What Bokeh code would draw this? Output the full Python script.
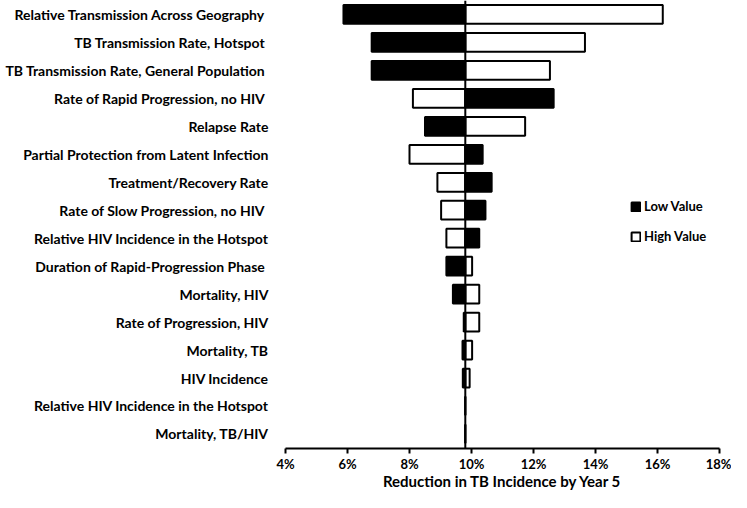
from bokeh.plotting import figure
from bokeh.models import Range1d, FixedTicker, Span, Legend, LegendItem, ColumnDataSource
from bokeh.embed import file_html
from bokeh.resources import INLINE

parameters = [
    "Relative Transmission  Across Geography",
    "TB Transmission  Rate, Hotspot",
    "TB Transmission  Rate, General Population",
    "Rate of Rapid  Progression, no HIV",
    "Relapse Rate",
    "Partial Protection from Latent Infection",
    "Treatment/Recovery Rate",
    "Rate of Slow  Progression, no HIV",
    "Relative HIV Incidence in the Hotspot",
    "Duration of Rapid-Progression  Phase",
    "Mortality, HIV",
    "Rate of Progression, HIV",
    "Mortality, TB",
    "HIV Incidence",
    "Relative HIV Incidence in the Hotspot",
    "Mortality, TB/HIV",
]
low_values = [5.87, 6.78, 6.78, 12.65, 8.50, 10.36, 10.65, 10.45, 10.25, 9.19, 9.40, 9.75, 9.71, 9.72, 9.80, 9.80]
high_values = [16.17, 13.66, 12.53, 8.11, 11.73, 8.00, 8.90, 9.02, 9.19, 10.02, 10.25, 10.25, 10.02, 9.94, 9.80, 9.80]
baseline = 9.8
x_ticks = [4, 6, 8, 10, 12, 14, 16, 18]
x_tick_labels = ["4%", "6%", "8%", "10%", "12%", "14%", "16%", "18%"]

FONT = "Lato"
n = len(parameters)
y_pos = [n - i for i in range(n)]
src = ColumnDataSource(dict(y=y_pos, low=low_values, high=high_values, base=[baseline] * n))

p = figure(width=731, height=492, output_backend="svg", toolbar_location=None,
           x_range=Range1d(4, 18), y_range=Range1d(0.48, 16.5),
           min_border_left=285, min_border_right=12, min_border_top=0, min_border_bottom=42)
p.outline_line_color = None
p.xgrid.visible = False
p.ygrid.visible = False

high_r = p.hbar(y="y", left="base", right="high", height=0.67, source=src,
                fill_color="white", line_color="black", line_width=2)
low_r = p.hbar(y="y", left="base", right="low", height=0.67, source=src,
               fill_color="black", line_color="black", line_width=2)

p.add_layout(Span(location=baseline, dimension="height", line_color="black", line_width=2))

xa = p.xaxis[0]
xa.ticker = FixedTicker(ticks=x_ticks)
xa.major_label_overrides = {t: l for t, l in zip(x_ticks, x_tick_labels)}
xa.axis_line_width = 2
xa.axis_line_color = "black"
xa.major_tick_line_width = 2
xa.major_tick_in = 0
xa.major_tick_out = 5
xa.minor_tick_line_color = None
xa.major_label_text_font = FONT
xa.major_label_text_font_style = "bold"
xa.major_label_text_font_size = "13px"
xa.major_label_text_color = "black"
xa.major_label_standoff = 2
xa.axis_label = "Reduction in TB Incidence by Year 5"
xa.axis_label_text_font = FONT
xa.axis_label_text_font_style = "bold"
xa.axis_label_text_font_size = "15px"
xa.axis_label_text_color = "black"
xa.axis_label_standoff = -3

ya = p.yaxis[0]
ya.ticker = FixedTicker(ticks=y_pos)
ya.major_label_overrides = {y: name for y, name in zip(y_pos, parameters)}
ya.axis_line_color = None
ya.major_tick_line_color = None
ya.minor_tick_line_color = None
ya.major_tick_in = 0
ya.major_tick_out = 0
ya.major_label_standoff = 17
ya.major_label_text_font = FONT
ya.major_label_text_font_style = "bold"
ya.major_label_text_font_size = "14px"
ya.major_label_text_color = "black"

legend = Legend(items=[LegendItem(label="Low Value", renderers=[low_r]),
                       LegendItem(label="High Value", renderers=[high_r])],
                location=(345, 204), padding=0, margin=0, spacing=14,
                glyph_width=11, glyph_height=11, label_height=14, label_standoff=3,
                border_line_alpha=0, background_fill_alpha=0,
                label_text_font=FONT, label_text_font_style="bold",
                label_text_font_size="13px", label_text_color="black")
p.add_layout(legend, "center")

open("out.html", "w").write(file_html(p, INLINE))
